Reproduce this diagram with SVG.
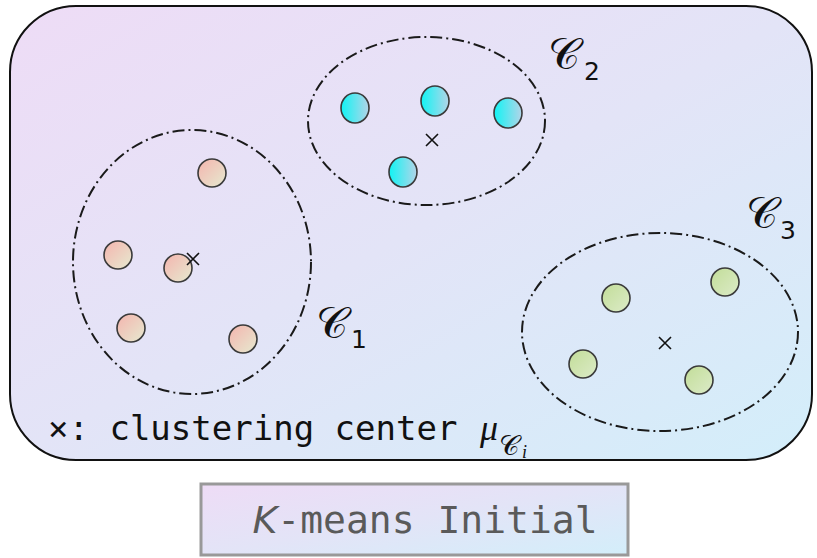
<svg xmlns="http://www.w3.org/2000/svg" width="817" height="558" viewBox="0 0 817 558">
<defs>
<linearGradient id="bg" x1="0" y1="0" x2="1" y2="1">
<stop offset="0" stop-color="#eedcf6"/>
<stop offset="0.5" stop-color="#e3e4f7"/>
<stop offset="1" stop-color="#d3eefa"/>
</linearGradient>
<linearGradient id="gPink" x1="0" y1="0" x2="1" y2="1">
<stop offset="0" stop-color="#f4b4ae"/>
<stop offset="1" stop-color="#e6ead0"/>
</linearGradient>
<linearGradient id="gCyan" x1="0" y1="0" x2="1" y2="0">
<stop offset="0" stop-color="#10f4f4"/>
<stop offset="1" stop-color="#b4d4e8"/>
</linearGradient>
<linearGradient id="gGreen" x1="0" y1="0" x2="1" y2="1">
<stop offset="0" stop-color="#c2dd98"/>
<stop offset="1" stop-color="#dcebc8"/>
</linearGradient>
</defs>
<style>
.frame{fill:url(#bg);stroke:#111;stroke-width:2}
.clu{fill:none;stroke:#1a1a1a;stroke-width:2;stroke-dasharray:12 4 2 4}
.pt{stroke:#3a3a3a;stroke-width:1.6}
.p1{fill:url(#gPink)}
.p2{fill:url(#gCyan)}
.p3{fill:url(#gGreen)}
.cx{stroke:#111;stroke-width:1.6;fill:none}
.lbl{font-family:"DejaVu Serif","Liberation Serif",serif;fill:#111}
.sub{font-family:"DejaVu Sans","Liberation Sans",sans-serif;fill:#111}
.mono{font-family:"DejaVu Sans Mono","Liberation Mono",monospace}
</style>
<g id="frame">
<rect class="frame" x="10" y="6" width="802" height="454" rx="66" ry="66"/>
</g>
<g id="cluster1">
<ellipse class="clu" cx="192" cy="262" rx="119" ry="132"/>
<circle class="pt p1" cx="212" cy="173" r="14"/>
<circle class="pt p1" cx="118" cy="255" r="14"/>
<circle class="pt p1" cx="178" cy="268" r="14"/>
<circle class="pt p1" cx="131" cy="328" r="14"/>
<circle class="pt p1" cx="243" cy="339" r="14"/>
<path class="cx" d="M187 253 L199 265 M199 253 L187 265"/>
<text class="lbl" x="316" y="338" font-size="44">𝒞</text>
<text class="sub" x="351" y="348" font-size="25">1</text>
</g>
<g id="cluster2">
<ellipse class="clu" cx="426.5" cy="121" rx="118.5" ry="84"/>
<ellipse class="pt p2" cx="355" cy="108" rx="14" ry="15"/>
<ellipse class="pt p2" cx="435" cy="101" rx="14" ry="15"/>
<ellipse class="pt p2" cx="508" cy="113" rx="14" ry="15"/>
<ellipse class="pt p2" cx="403" cy="172" rx="14" ry="15"/>
<path class="cx" d="M426 134 L438 146 M438 134 L426 146"/>
<text class="lbl" x="548" y="69" font-size="44">𝒞</text>
<text class="sub" x="584" y="80" font-size="25">2</text>
</g>
<g id="cluster3">
<ellipse class="clu" cx="660" cy="332" rx="138" ry="99"/>
<circle class="pt p3" cx="616" cy="298" r="14"/>
<circle class="pt p3" cx="725" cy="282" r="14"/>
<circle class="pt p3" cx="583" cy="364" r="14"/>
<circle class="pt p3" cx="699" cy="380" r="14"/>
<path class="cx" d="M659 337 L671 349 M671 337 L659 349"/>
<text class="lbl" x="746" y="228" font-size="44">𝒞</text>
<text class="sub" x="780" y="239" font-size="25">3</text>
</g>
<g id="legend">
<text class="mono" x="48" y="440" font-size="34" fill="#111">×: clustering center</text>
<text x="480" y="440" font-size="36" font-family="Liberation Serif,serif" font-style="italic" fill="#111">μ</text>
<text class="lbl" x="499" y="455" font-size="28">𝒞</text>
<text x="522" y="458" font-size="18" font-family="Liberation Serif,serif" font-style="italic" fill="#111">i</text>
</g>
<g id="title">
<rect x="201" y="484" width="427" height="71" fill="url(#bg)" stroke="#999" stroke-width="3"/>
<text class="mono" x="425" y="533" font-size="38" fill="#5a5a5a" text-anchor="middle"><tspan font-style="italic" font-family="DejaVu Sans,sans-serif">K</tspan>-means Initial</text>
</g>
</svg>
